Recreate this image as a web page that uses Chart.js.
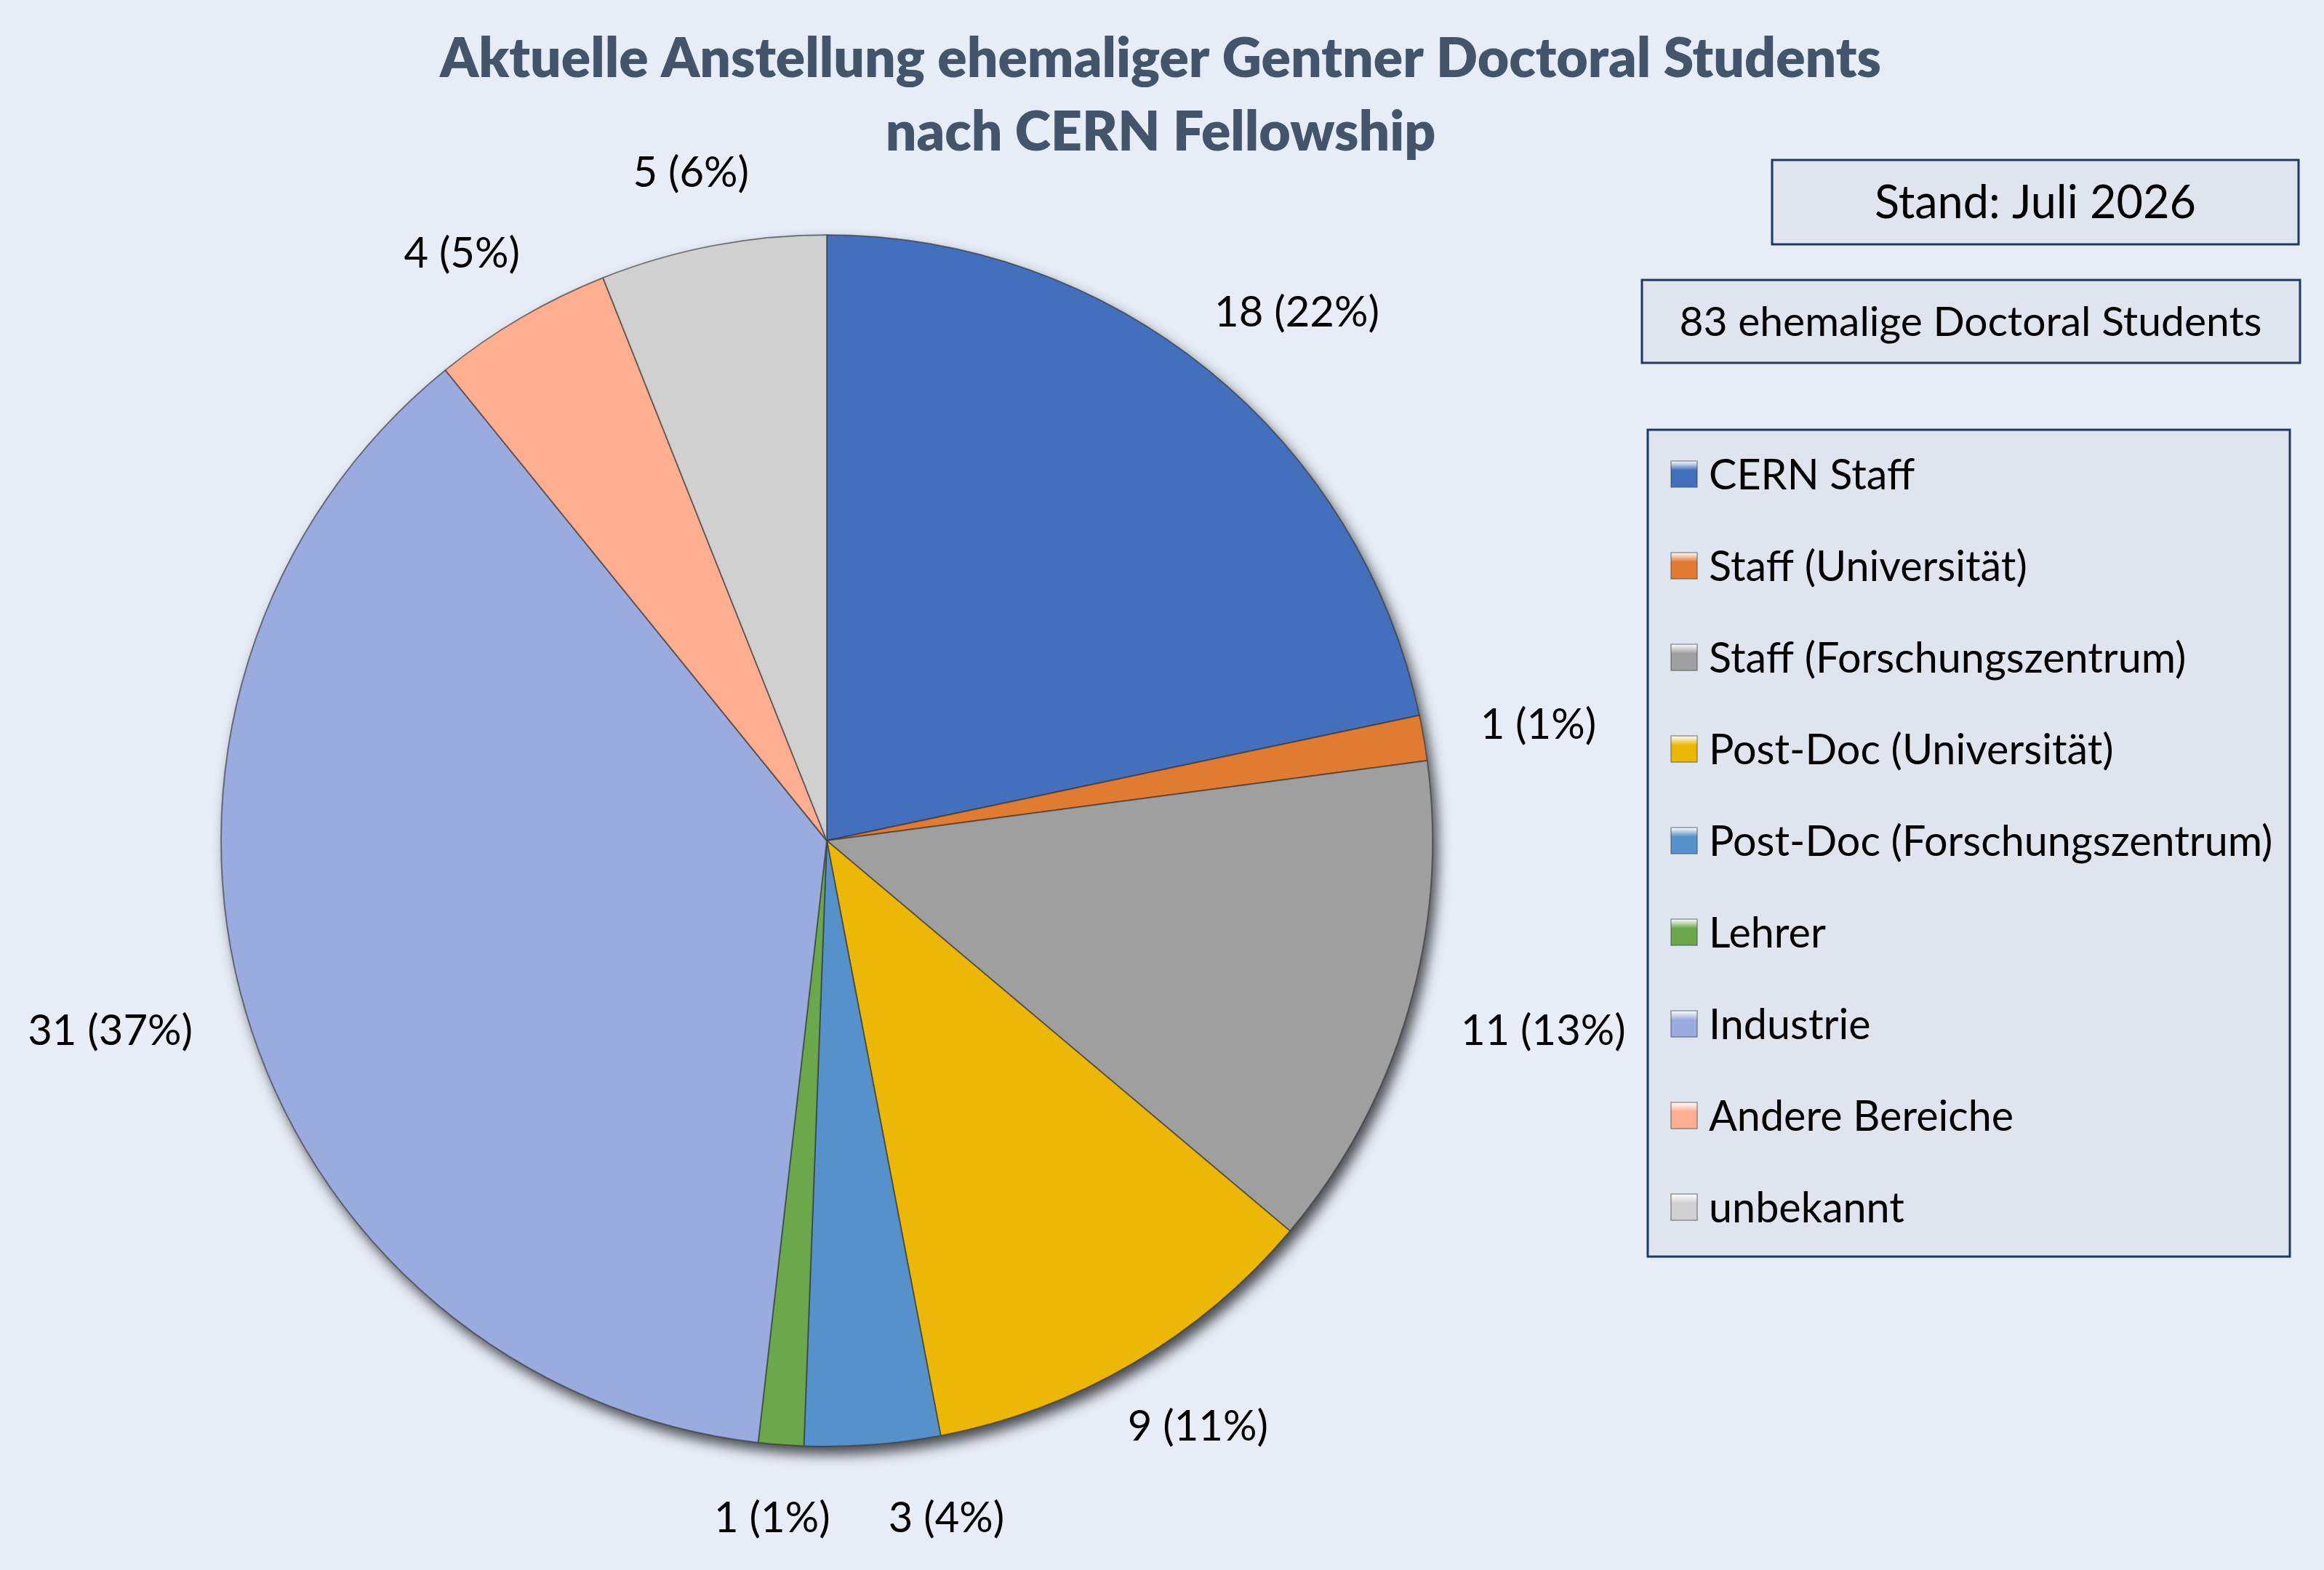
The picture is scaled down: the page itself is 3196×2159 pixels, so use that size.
<!DOCTYPE html>
<html>
<head>
<meta charset="utf-8">
<script src="https://cdn.jsdelivr.net/npm/chart.js@4.4.1/dist/chart.umd.min.js"></script>
<style>
  html, body { margin: 0; padding: 0; background: #e7edf7; }
  canvas { display: block; }
</style>
</head>
<body>
<canvas id="pieChart" width="3196" height="2159"></canvas>
<script>
// data
const categories = [
  "CERN Staff",
  "Staff (Universität)",
  "Staff (Forschungszentrum)",
  "Post-Doc (Universität)",
  "Post-Doc (Forschungszentrum)",
  "Lehrer",
  "Industrie",
  "Andere Bereiche",
  "unbekannt"
];
const counts = [18, 1, 11, 9, 3, 1, 31, 4, 5];
const sliceColors = ["#4270bd", "#e07b31", "#9f9f9f", "#edb708", "#5592cb", "#6aa84b", "#9aacdf", "#ffae90", "#d0d0d0"];
const titleLines = ["Aktuelle Anstellung ehemaliger Gentner Doctoral Students", "nach CERN Fellowship"];
const standText = "Stand: Juli 2026";
const studentsSuffix = "ehemalige Doctoral Students";

const total = counts.reduce((a, b) => a + b, 0);
const FONT = "Lato, 'Open Sans', sans-serif";

function boxRect(ctx, x, y, w, h) {
  ctx.fillStyle = "#dee5ee";
  ctx.fillRect(x, y, w, h);
  ctx.strokeStyle = "#1f3864";
  ctx.lineWidth = 3;
  ctx.strokeRect(x, y, w, h);
}

const background = {
  id: "background",
  beforeDraw(chart) {
    const ctx = chart.ctx;
    ctx.save();
    ctx.fillStyle = "#e7edf7";
    ctx.fillRect(0, 0, chart.width, chart.height);
    ctx.restore();
  }
};

// soft drop shadow under the whole pie
const pieShadow = {
  id: "pieShadow",
  beforeDatasetsDraw(chart) {
    const arc = chart.getDatasetMeta(0).data[0];
    if (!arc) return;
    const p = arc.getProps(["x", "y", "outerRadius"], true);
    const ctx = chart.ctx;
    ctx.save();
    ctx.shadowColor = "rgba(0,0,0,0.7)";
    ctx.shadowBlur = 18;
    ctx.shadowOffsetX = 7;
    ctx.shadowOffsetY = 11;
    ctx.fillStyle = "#777";
    ctx.beginPath();
    ctx.arc(p.x, p.y, p.outerRadius, 0, Math.PI * 2);
    ctx.fill();
    ctx.restore();
  }
};

const sliceLabels = {
  id: "sliceLabels",
  afterDatasetsDraw(chart) {
    const ctx = chart.ctx;
    const meta = chart.getDatasetMeta(0);
    const size = 58;
    ctx.save();
    ctx.font = size + "px " + FONT;
    ctx.fillStyle = "#000";
    ctx.textAlign = "center";
    ctx.textBaseline = "middle";
    const labels = meta.data.map((arc, i) => {
      const p = arc.getProps(["x", "y", "startAngle", "endAngle", "outerRadius"], true);
      const mid = (p.startAngle + p.endAngle) / 2;
      const text = counts[i] + " (" + Math.round(counts[i] / total * 100) + "%)";
      const w = ctx.measureText(text).width;
      const h = size * 0.75;
      const d = p.outerRadius + 80;
      const cx = p.x + Math.cos(mid) * d + Math.cos(mid) * w / 2;
      const cy = p.y + Math.sin(mid) * d + Math.sin(mid) * h / 2;
      return { text, cx, cy, w, h, v: counts[i] };
    });
    // push apart labels that collide
    for (let i = 0; i < labels.length; i++) {
      for (let j = i + 1; j < labels.length; j++) {
        const a = labels[i], b = labels[j];
        const ox = (a.w + b.w) / 2 - Math.abs(a.cx - b.cx);
        const oy = (a.h + b.h) / 2 - Math.abs(a.cy - b.cy);
        if (ox > 0 && oy > 0) {
          const mover = a.v >= b.v ? a : b;
          const other = mover === a ? b : a;
          mover.cx += (mover.cx >= other.cx ? 1 : -1) * (ox + 80);
        }
      }
    }
    labels.forEach(l => ctx.fillText(l.text, l.cx, l.cy));
    ctx.restore();
  }
};

const decorations = {
  id: "decorations",
  afterDraw(chart) {
    const ctx = chart.ctx;
    ctx.save();
    // title
    ctx.fillStyle = "#44546a";
    ctx.font = "800 75px " + FONT;
    ctx.textAlign = "center";
    ctx.textBaseline = "middle";
    ctx.fillText(titleLines[0], 1596, 82);
    ctx.fillText(titleLines[1], 1596, 183);

    // Stand box
    boxRect(ctx, 2437, 220, 724, 116);
    ctx.fillStyle = "#000";
    ctx.font = "63px " + FONT;
    ctx.fillText(standText, 2437 + 362, 280);

    // count box
    boxRect(ctx, 2258, 385, 905, 114);
    ctx.fillStyle = "#000";
    ctx.font = "57px " + FONT;
    ctx.fillText(total + " " + studentsSuffix, 2258 + 452, 444);

    // legend
    boxRect(ctx, 2266, 591, 883, 1137);
    ctx.textAlign = "left";
    ctx.font = "57.5px " + FONT;
    categories.forEach((name, i) => {
      const y = 652 + i * 126;
      const g = ctx.createLinearGradient(0, y - 18, 0, y + 18);
      g.addColorStop(0, "#ffffff");
      g.addColorStop(0.35, sliceColors[i]);
      g.addColorStop(1, sliceColors[i]);
      ctx.fillStyle = g;
      ctx.fillRect(2298, y - 18, 36, 36);
      ctx.strokeStyle = "rgba(60,60,60,0.5)";
      ctx.lineWidth = 1.5;
      ctx.strokeRect(2298, y - 18, 36, 36);
      ctx.fillStyle = "#000";
      ctx.fillText(name, 2350, y + 2);
    });
    ctx.restore();
  }
};

new Chart(document.getElementById("pieChart"), {
  type: "pie",
  data: {
    labels: categories,
    datasets: [{
      data: counts,
      backgroundColor: sliceColors,
      borderColor: "rgba(45,45,45,0.55)",
      borderWidth: 2
    }]
  },
  options: {
    responsive: false,
    devicePixelRatio: 1,
    animation: false,
    layout: { padding: { left: 303, right: 1225, top: 322, bottom: 169 } },
    plugins: {
      legend: { display: false },
      tooltip: { enabled: false },
      title: { display: false }
    }
  },
  plugins: [background, pieShadow, sliceLabels, decorations]
});
</script>
</body>
</html>
